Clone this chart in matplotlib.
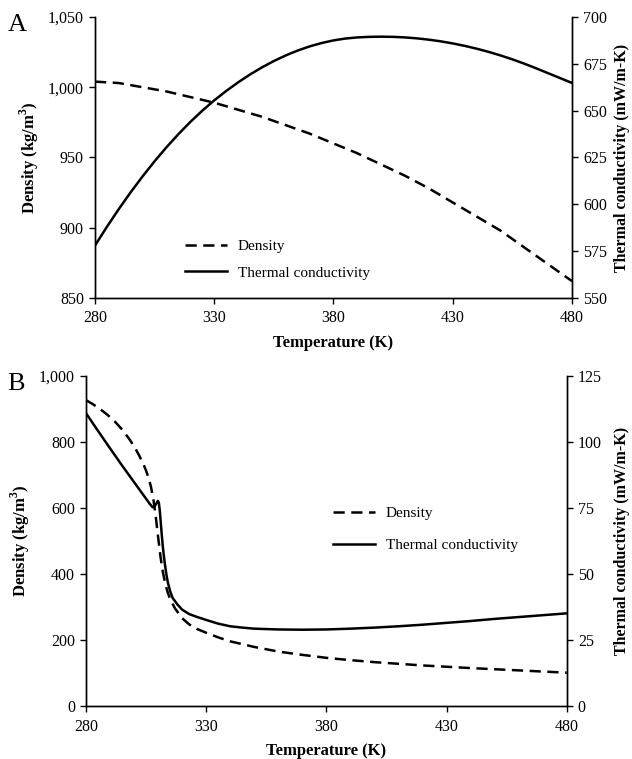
import matplotlib
matplotlib.use("Agg")
import matplotlib.pyplot as plt
from matplotlib.ticker import StrMethodFormatter, MultipleLocator

plt.rcParams['font.family'] = ['Liberation Serif', 'DejaVu Serif']
plt.rcParams['mathtext.fontset'] = 'custom'
plt.rcParams['mathtext.rm'] = 'Liberation Serif'
plt.rcParams['mathtext.bf'] = 'Liberation Serif:bold'

# ---- Panel A data ----
temp_a_dens = [280, 290, 300, 310, 320, 330, 340, 350, 360, 370, 380,
               390, 400, 410, 420, 430, 440, 450, 460, 470, 480]
density_a = [1004, 1003, 1000, 997, 993, 989, 984, 979, 973, 967, 960,
             953, 945, 937, 928, 918, 908, 898, 886, 874, 862]
temp_a_tc = [280, 285, 290, 295, 300, 305, 310, 315, 320, 325, 330, 335,
             340, 345, 350, 355, 360, 365, 370, 375, 380, 385, 390, 395,
             400, 405, 410, 415, 420, 425, 430, 435, 440, 445, 450, 455,
             460, 465, 470, 475, 480]
tc_a = [578, 588, 597.5, 606.5, 615, 623, 630.5, 637.5, 644, 650, 655.5,
        660.5, 665.1, 669.3, 673.1, 676.5, 679.5, 682.1, 684.3, 686.1,
        687.5, 688.5, 689.1, 689.4, 689.5, 689.4, 689.1, 688.6, 687.9,
        687.0, 685.9, 684.6, 683.1, 681.4, 679.5, 677.4, 675.1, 672.6,
        670.0, 667.4, 664.8]

# ---- Panel B data ----
temp_b_dens = [280, 283, 286, 289, 292, 295, 298, 300, 302, 304, 305, 306,
               307, 308, 309, 310, 311, 312, 313, 314, 315, 317, 320, 323,
               326, 330, 335, 340, 350, 360, 370, 380, 390, 400, 420, 440,
               460, 480]
density_b = [927, 914, 899, 882, 862, 838, 809, 787, 761, 731, 713, 692,
             665, 628, 575, 512, 452, 405, 370, 344, 324, 296, 266, 247,
             234, 222, 208, 196, 179, 165, 155, 146, 139, 133, 123, 115,
             108, 101]
temp_b_tc = [280, 285, 290, 295, 300, 303, 305, 306.5, 307.7, 308.5, 309.3,
             309.9, 310.3, 310.7, 311.1, 311.5, 312, 312.5, 313, 313.5, 314,
             315, 316, 318, 320, 323, 326, 330, 335, 340, 345, 350, 360,
             370, 380, 390, 400, 410, 420, 430, 440, 450, 460, 470, 480]
tc_b = [110.9, 104.2, 97.6, 91.1, 84.8, 81.0, 78.5, 76.6, 75.3, 75.5, 76.8,
        77.7, 77.0, 74, 69.5, 65, 60, 56, 52.5, 49.5, 47,
        43.5, 41, 38.5, 36.5, 34.8, 33.8, 32.6, 31.2, 30.2, 29.7, 29.3, 29.0,
        28.9, 29.0, 29.3, 29.7, 30.2, 30.8, 31.5, 32.2, 33.0, 33.7, 34.4, 35.1]

x_ticks = [280, 330, 380, 430, 480]
lw = 1.8
dash = (4.5, 2.6)

fig = plt.figure(figsize=(6.32, 7.59), dpi=100)


def style_axes(ax, ax2, right_pad):
    ax.spines['top'].set_visible(False)
    ax2.spines['top'].set_visible(False)
    for s in ['left', 'bottom', 'right']:
        ax2.spines[s].set_linewidth(1.0)
        ax.spines[s].set_linewidth(1.0)
    ax.tick_params(direction='out', length=4, width=1.0, labelsize=11.5, pad=4)
    ax2.tick_params(direction='out', length=4, width=1.0, labelsize=11.5, pad=4)
    ax.tick_params(axis='x', pad=5)
    ax.set_xlim(280, 480)
    ax.set_xticks(x_ticks)
    ax.set_xlabel('Temperature (K)', fontsize=12, fontweight='bold', labelpad=6)
    ax.set_ylabel(r'Density (kg/m$^{\mathbf{3}}$)', fontsize=12,
                  fontweight='bold', labelpad=5)
    ax2.set_ylabel('Thermal conductivity (mW/m-K)', fontsize=11.5,
                   fontweight='bold', labelpad=right_pad)


# ===== Panel A =====
axA = fig.add_axes([0.1503, 0.6074, 0.7547, 0.3702])
axA2 = axA.twinx()
lA1, = axA.plot(temp_a_dens, density_a, color='black', lw=lw, ls=(0, dash),
                label='Density')
lA2, = axA2.plot(temp_a_tc, tc_a, color='black', lw=lw,
                 label='Thermal conductivity')
axA.set_ylim(850, 1050)
axA.yaxis.set_major_locator(MultipleLocator(50))
axA.yaxis.set_major_formatter(StrMethodFormatter('{x:,.0f}'))
axA2.set_ylim(550, 700)
axA2.yaxis.set_major_locator(MultipleLocator(25))
style_axes(axA, axA2, 5)
fig.legend([lA1, lA2], ['Density', 'Thermal conductivity'], loc='center left',
           bbox_to_anchor=(0.2927, 0.6581), frameon=False, fontsize=11,
           handlelength=2.75, handletextpad=0.7, labelspacing=0.85,
           borderpad=0, borderaxespad=0)
fig.text(0.012, 1 - 25 / 759, 'A', fontsize=19, va='center', ha='left')

# ===== Panel B =====
axB = fig.add_axes([0.1361, 0.0698, 0.7606, 0.4348])
axB2 = axB.twinx()
lB1, = axB.plot(temp_b_dens, density_b, color='black', lw=lw, ls=(0, dash),
                label='Density')
lB2, = axB2.plot(temp_b_tc, tc_b, color='black', lw=lw,
                 label='Thermal conductivity')
axB.set_ylim(0, 1000)
axB.yaxis.set_major_locator(MultipleLocator(200))
axB.yaxis.set_major_formatter(StrMethodFormatter('{x:,.0f}'))
axB2.set_ylim(0, 125)
axB2.yaxis.set_major_locator(MultipleLocator(25))
style_axes(axB, axB2, 9)
fig.legend([lB1, lB2], ['Density', 'Thermal conductivity'], loc='center left',
           bbox_to_anchor=(0.5269, 0.3030), frameon=False, fontsize=11,
           handlelength=2.75, handletextpad=0.7, labelspacing=1.2,
           borderpad=0, borderaxespad=0)
fig.text(0.012, 1 - 384 / 759, 'B', fontsize=19, va='center', ha='left')

fig.savefig('out.png', dpi=100)
